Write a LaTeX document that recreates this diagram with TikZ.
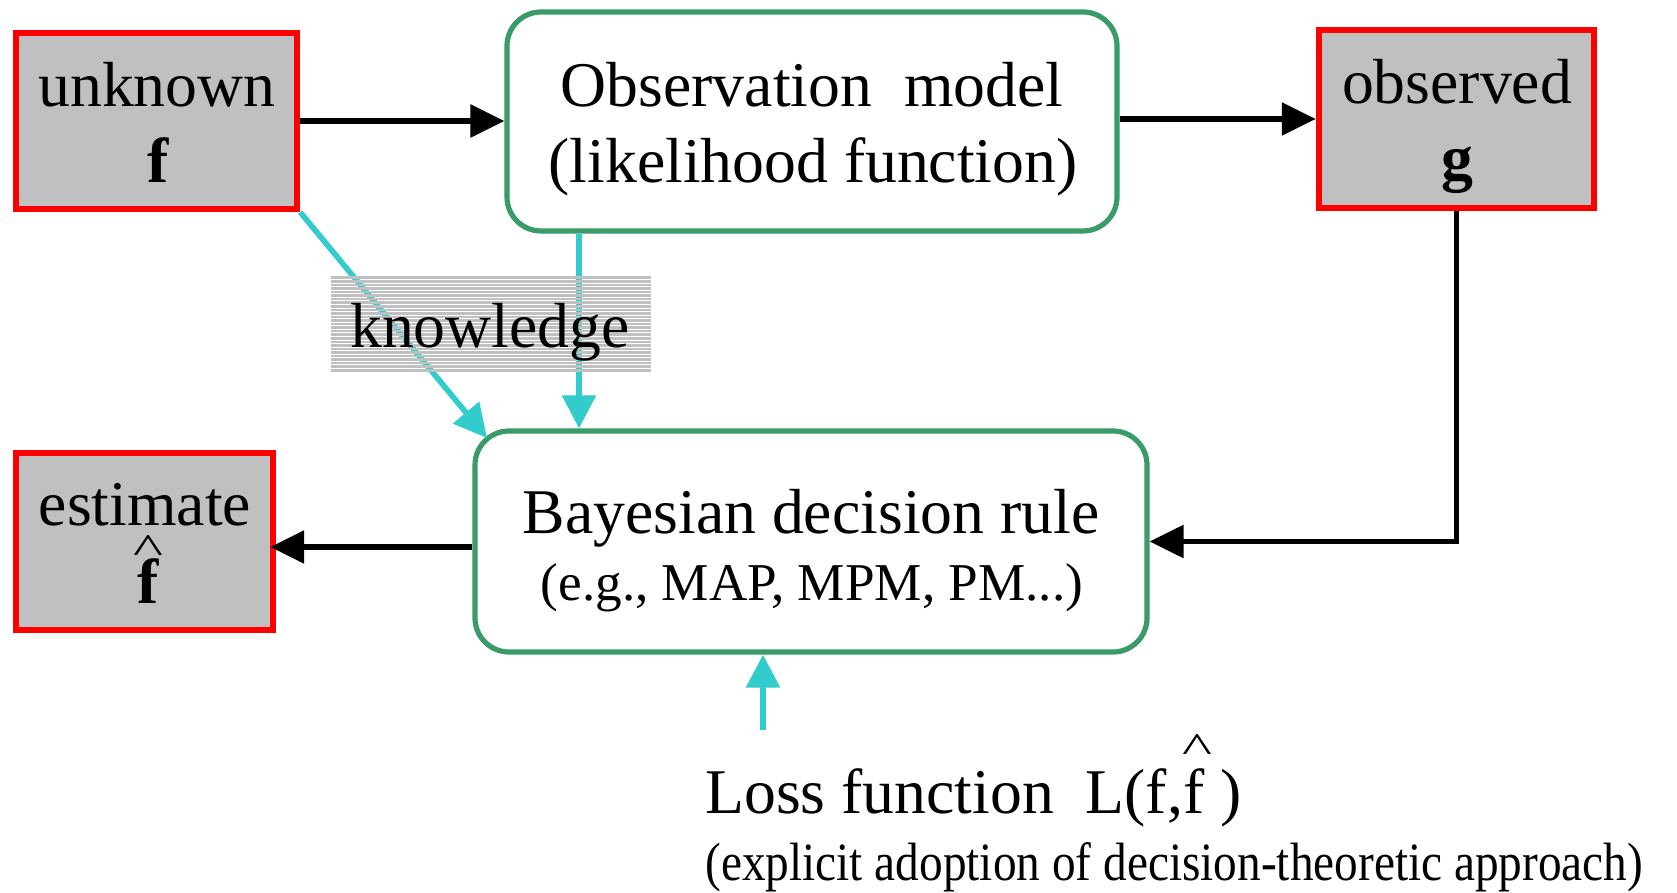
\documentclass[tikz,border=0pt]{standalone}
\usepackage{fontspec}
\usepackage{graphicx}
\setmainfont{Liberation Serif}
\usetikzlibrary{arrows.meta}
\definecolor{boxred}{RGB}{255,0,0}
\definecolor{boxgray}{RGB}{192,192,192}
\definecolor{boxgreen}{RGB}{56,155,104}
\definecolor{knowcyan}{RGB}{51,204,204}
\begin{document}
\begin{tikzpicture}[x=0.5pt,y=-0.5pt,
  redbox/.style={draw=boxred, fill=boxgray, line width=3.2pt, inner sep=0pt},
  greenbox/.style={draw=boxgreen, fill=white, line width=2.6pt, rounded corners=17pt, inner sep=0pt},
  txtbig/.style={font=\fontsize{31.85}{38}\selectfont, inner sep=0pt, anchor=base},
  txtmid/.style={font=\fontsize{26.6}{32}\selectfont, inner sep=0pt, anchor=base},
  txtsmall/.style={font=\fontsize{23.65}{28}\selectfont, inner sep=0pt, anchor=base west},
  hatsym/.style={font=\fontsize{31.85}{38}\selectfont, inner sep=0pt, anchor=base},
  blackarrow/.style={draw=black, line width=2.8pt, -{Triangle[length=17pt,width=16pt]}},
  cyanarrow/.style={draw=knowcyan, line width=2.8pt, -{Triangle[length=16.5pt,width=16.5pt]}},
  stripe/.style={draw=boxgray, line width=1.3pt}]
\fill[white] (0,0) rectangle (1677,893);
\useasboundingbox (0,0) rectangle (1677,893);

% boxes
\node[redbox, minimum width=140.5pt, minimum height=88pt] (unknown) at (156.5,121) {};
\node[redbox, minimum width=137.5pt, minimum height=89pt] (observed) at (1456.5,119) {};
\node[redbox, minimum width=128.5pt, minimum height=88.5pt] (estimate) at (144.5,541.5) {};
\node[greenbox, minimum width=305pt, minimum height=109.5pt] (obs) at (812,121.5) {};
\node[greenbox, minimum width=336pt, minimum height=110.5pt] (bayes) at (811,541.5) {};

% box texts
\node[txtbig] (tunknown) at (157,107) {unknown};
\node[txtbig] (tf) at (158,183) {\bfseries f};
\node[txtbig] (tobserved) at (1457,104) {observed};
\node[txtbig] (tg) at (1457,180) {\bfseries g};
\node[txtbig] (testimate) at (145,525) {estimate};
\node[txtbig] (tfhat) at (148,603) {\bfseries f};
\node[hatsym] (hatest) at (148,563) {\scalebox{1}[0.67]{\textasciicircum}};
\node[txtbig] (tobs1) at (812,107) {Observation\ \ model};
\node[txtbig] (tobs2) at (813,183) {(likelihood function)};
\node[txtbig] (tbay1) at (811,533) {Bayesian decision rule};
\node[txtmid] (tbay2) at (812,600) {(e.g., MAP, MPM, PM...)};

% cyan connectors
\coordinate (diagend) at (487,438);
\coordinate (lossstart) at (763,730);
\draw[cyanarrow] (unknown.south east) -- (diagend);
\draw[cyanarrow] ([xshift=-116.5pt]obs.south) -- ([xshift=-116pt]bayes.north);
\draw[cyanarrow] (lossstart) -- (lossstart |- bayes.south);

% knowledge label with striped background
\foreach \i in {0,...,26} {
  \draw[stripe] (331,{277.8+\i*3.556}) -- (651,{277.8+\i*3.556});
}
\node[txtbig] (know) at (490,348) {knowledge};

% black connectors
\draw[blackarrow] (unknown.east) -- (obs.west |- unknown.east);
\draw[blackarrow] (obs.east |- observed.west) -- (observed.west);
\draw[blackarrow] (observed.south) |- (bayes.east);
\draw[blackarrow] ([yshift=-2.75pt]bayes.west) -- ([xshift=-3pt,yshift=-2.75pt]estimate.east);

% loss function
\node[txtbig, anchor=base west] (loss) at (705,813) {Loss function\ \ L(f,f\ )};
\node[hatsym] (hatloss) at (1197,762) {\scalebox{1}[0.67]{\textasciicircum}};
\node[txtsmall] (explicit) at (705,880) {\scalebox{1}[1.14]{(explicit adoption of decision-theoretic approach)}};
\end{tikzpicture}
\end{document}
